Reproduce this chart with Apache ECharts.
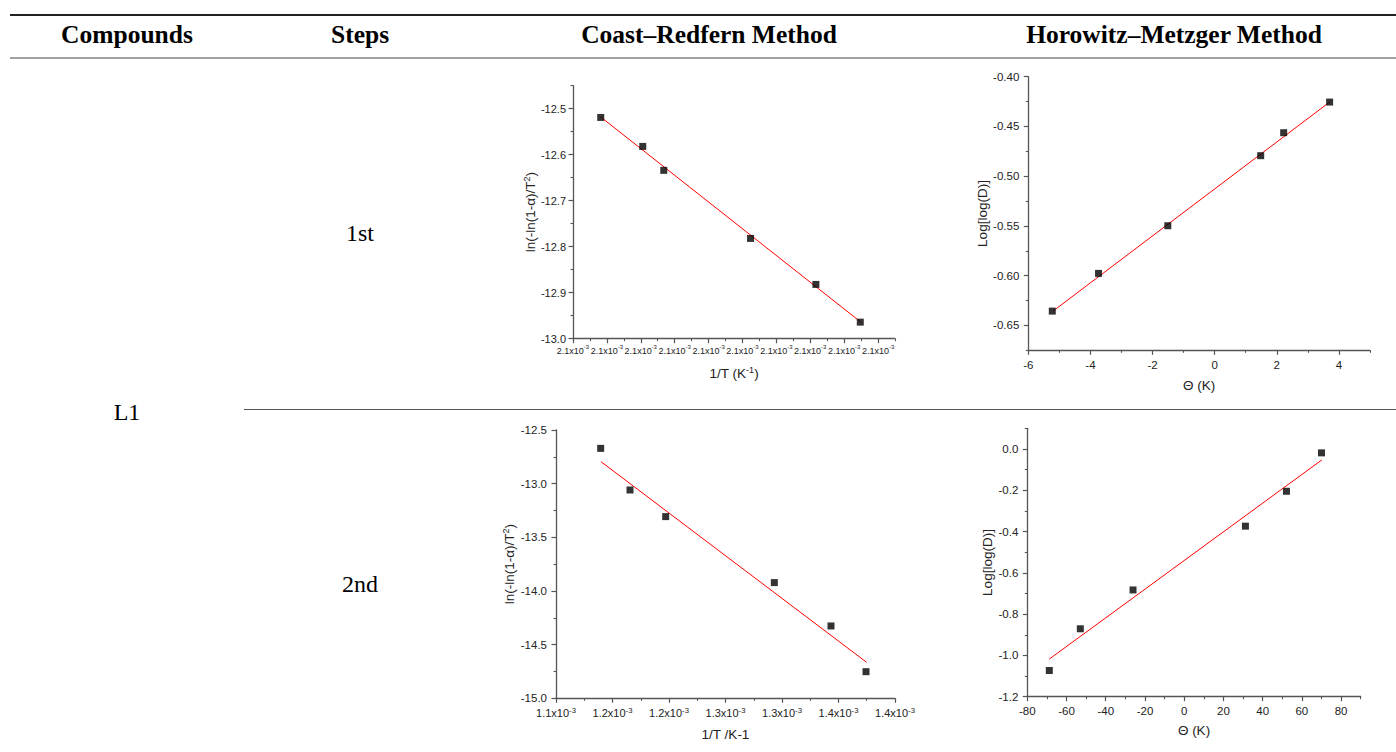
<!DOCTYPE html>
<html><head><meta charset="utf-8">
<script src="https://cdn.jsdelivr.net/npm/echarts@6/dist/echarts.min.js"></script>
<style>html,body{margin:0;padding:0;background:#fff;}#c{width:1396px;height:752px;}</style>
</head><body><div id="c"></div>
<script>
// ---------- table text ----------
const headers = ['Compounds', 'Steps', 'Coast\u2013Redfern Method', 'Horowitz\u2013Metzger Method'];
const compoundLabel = 'L1';
const stepLabels = ['1st', '2nd'];

// ---------- Chart 1: Coats–Redfern, 1st step ----------
const cr1X = [0.00210409, 0.00211029, 0.00211339, 0.00212619, 0.00213583, 0.00214238];
const cr1Y = [-12.519, -12.582, -12.634, -12.782, -12.882, -12.964];
const cr1FitX = [0.00210409, 0.00214238];
const cr1FitY = [-12.518, -12.963];
const cr1XMajor = [0.002100, 0.002105, 0.002110, 0.002115, 0.002120, 0.002125, 0.002130, 0.002135, 0.002140, 0.002145];
const cr1XLabels = ['2.1', '2.1', '2.1', '2.1', '2.1', '2.1', '2.1', '2.1', '2.1', '2.1'];
const cr1XMinor = [0.0021025, 0.0021075, 0.0021125, 0.0021175, 0.0021225, 0.0021275, 0.0021325, 0.0021375, 0.0021425, 0.0021475];
const cr1YMajor = [-13.0, -12.9, -12.8, -12.7, -12.6, -12.5];
const cr1YLabels = ['-13.0', '-12.9', '-12.8', '-12.7', '-12.6', '-12.5'];
const cr1YMinor = [-12.95, -12.85, -12.75, -12.65, -12.55, -12.45];

// ---------- Chart 2: Horowitz–Metzger, 1st step ----------
const hm1X = [-5.228, -3.739, -1.509, 1.481, 2.221, 3.700];
const hm1Y = [-0.6356, -0.5977, -0.5498, -0.4794, -0.4563, -0.4255];
const hm1FitX = [-5.20, 3.70];
const hm1FitY = [-0.6355, -0.4255];
const hm1XMajor = [-6, -4, -2, 0, 2, 4];
const hm1XLabels = ['-6', '-4', '-2', '0', '2', '4'];
const hm1XMinor = [-5, -3, -1, 1, 3, 5];
const hm1YMajor = [-0.65, -0.60, -0.55, -0.50, -0.45, -0.40];
const hm1YLabels = ['-0.65', '-0.60', '-0.55', '-0.50', '-0.45', '-0.40'];
const hm1YMinor = [-0.675, -0.625, -0.575, -0.525, -0.475, -0.425];

// ---------- Chart 3: Coats–Redfern, 2nd step ----------
const cr2X = [0.00113953, 0.00116549, 0.00119706, 0.00129322, 0.00134336, 0.00137434];
const cr2Y = [-12.671, -13.059, -13.307, -13.922, -14.326, -14.752];
const cr2FitX = [0.00113982, 0.00137493];
const cr2FitY = [-12.795, -14.665];
const cr2XMajor = [0.00110, 0.00115, 0.00120, 0.00125, 0.00130, 0.00135, 0.00140];
const cr2XLabels = ['1.1', '1.2', '1.2', '1.3', '1.3', '1.4', '1.4'];
const cr2XMinor = [0.001125, 0.001175, 0.001225, 0.001275, 0.001325, 0.001375];
const cr2YMajor = [-15.0, -14.5, -14.0, -13.5, -13.0, -12.5];
const cr2YLabels = ['-15.0', '-14.5', '-14.0', '-13.5', '-13.0', '-12.5'];
const cr2YMinor = [-14.75, -14.25, -13.75, -13.25, -12.75];

// ---------- Chart 4: Horowitz–Metzger, 2nd step ----------
const hm2X = [-68.78, -52.96, -26.09, 31.22, 52.14, 70.00];
const hm2Y = [-1.073, -0.871, -0.683, -0.374, -0.205, -0.019];
const hm2FitX = [-68.8, 70.2];
const hm2FitY = [-1.018, -0.053];
const hm2XMajor = [-80, -60, -40, -20, 0, 20, 40, 60, 80];
const hm2XLabels = ['-80', '-60', '-40', '-20', '0', '20', '40', '60', '80'];
const hm2XMinor = [-70, -50, -30, -10, 10, 30, 50, 70, 90];
const hm2YMajor = [-1.2, -1.0, -0.8, -0.6, -0.4, -0.2, 0.0];
const hm2YLabels = ['-1.2', '-1.0', '-0.8', '-0.6', '-0.4', '-0.2', '0.0'];
const hm2YMinor = [-1.1, -0.9, -0.7, -0.5, -0.3, -0.1, 0.1];

// ---------- build ----------
const AXIS_COLOR = '#555';
const LABEL_COLOR = '#222';
const SANS = 'Arial, "Liberation Sans", sans-serif';
const SERIF = '"Liberation Serif", "Times New Roman", serif';

function lookup(majors, labels) {
  return function (v) {
    for (let i = 0; i < majors.length; i++) {
      if (Math.abs(majors[i] - v) < Math.abs(majors[1] - majors[0]) * 1e-3) return labels[i];
    }
    return '';
  };
}

const richName = {
  a: { fontSize: 13.5, lineHeight: 16, fontFamily: SANS, color: LABEL_COLOR },
  s: { fontSize: 9, lineHeight: 9, fontFamily: SANS, color: LABEL_COLOR, verticalAlign: 'top' }
};

function mainAxis(dim, gridIndex, min, max, majors, labels, o) {
  const f = lookup(majors, labels);
  return {
    type: 'value', gridIndex: gridIndex, min: min, max: max,
    position: dim === 'x' ? 'bottom' : 'left',
    splitLine: { show: false },
    axisLine: { show: true, onZero: false, lineStyle: { color: AXIS_COLOR, width: 1.3 } },
    axisTick: { show: true, inside: false, length: 4.5, customValues: majors, lineStyle: { color: AXIS_COLOR, width: 1.2 } },
    axisLabel: {
      show: true, customValues: majors, margin: o.margin, color: LABEL_COLOR,
      showMinLabel: true, showMaxLabel: true, hideOverlap: false,
      fontFamily: SANS, fontSize: o.fontSize,
      formatter: o.sup ? function (v) { return '{a|' + f(v) + 'x10}{s|' + o.sup + '}'; } : f,
      rich: o.sup ? {
        a: { fontSize: o.fontSize, lineHeight: 14, fontFamily: SANS, color: LABEL_COLOR },
        s: { fontSize: o.supSize || o.fontSize * 0.7, lineHeight: 8, fontFamily: SANS, color: LABEL_COLOR, verticalAlign: 'top' }
      } : undefined
    },
    name: o.name, nameLocation: 'middle', nameGap: o.nameGap,
    nameTextStyle: { fontFamily: SANS, fontSize: 13.5, color: LABEL_COLOR, rich: richName }
  };
}
function minorAxis(dim, gridIndex, min, max, minors) {
  return {
    type: 'value', gridIndex: gridIndex, min: min, max: max,
    position: dim === 'x' ? 'bottom' : 'left',
    splitLine: { show: false },
    axisLine: { show: false, onZero: false },
    axisTick: { show: true, inside: false, length: 2.5, customValues: minors, lineStyle: { color: AXIS_COLOR, width: 1.1 } },
    axisLabel: { show: false }
  };
}
function pairs(xs, ys) { return xs.map(function (x, i) { return [x, ys[i]]; }); }

const grids = [
  { left: 573, top: 85.7, width: 322, height: 253 },
  { left: 1028.3, top: 76.7, width: 341.7, height: 273.6 },
  { left: 556, top: 430, width: 339, height: 268.3 },
  { left: 1027.3, top: 428.3, width: 333.4, height: 268.4 }
];

const xAxes = [
  mainAxis('x', 0, 0.0021, 0.0021475, cr1XMajor, cr1XLabels, { fontSize: 9, supSize: 6, margin: 5, sup: '-3', name: '{a|1/T (K}{s|-1}{a|)}', nameGap: 27 }),
  mainAxis('x', 1, -6, 5, hm1XMajor, hm1XLabels, { fontSize: 11.5, margin: 9, name: '{a|\u0398 (K)}', nameGap: 27 }),
  mainAxis('x', 2, 0.0011, 0.0014, cr2XMajor, cr2XLabels, { fontSize: 11, margin: 8, sup: '-3', name: '{a|1/T /K-1}', nameGap: 28 }),
  mainAxis('x', 3, -80, 90, hm2XMajor, hm2XLabels, { fontSize: 11.5, margin: 8, name: '{a|\u0398 (K)}', nameGap: 26 }),
  minorAxis('x', 0, 0.0021, 0.0021475, cr1XMinor),
  minorAxis('x', 1, -6, 5, hm1XMinor),
  minorAxis('x', 2, 0.0011, 0.0014, cr2XMinor),
  minorAxis('x', 3, -80, 90, hm2XMinor)
];
const yAxes = [
  mainAxis('y', 0, -13.0, -12.45, cr1YMajor, cr1YLabels, { fontSize: 11, margin: 7, name: '{a|ln(-ln(1-\u03b1)/T}{s|2}{a|)}', nameGap: 33 }),
  mainAxis('y', 1, -0.675, -0.40, hm1YMajor, hm1YLabels, { fontSize: 11.5, margin: 9, name: '{a|Log[log(D)]}', nameGap: 37 }),
  mainAxis('y', 2, -15.0, -12.5, cr2YMajor, cr2YLabels, { fontSize: 11.5, margin: 9, name: '{a|ln(-ln(1-\u03b1)/T}{s|2}{a|)}', nameGap: 35 }),
  mainAxis('y', 3, -1.2, 0.1, hm2YMajor, hm2YLabels, { fontSize: 11.5, margin: 9, name: '{a|Log[log(D)]}', nameGap: 31 }),
  minorAxis('y', 0, -13.0, -12.45, cr1YMinor),
  minorAxis('y', 1, -0.675, -0.40, hm1YMinor),
  minorAxis('y', 2, -15.0, -12.5, cr2YMinor),
  minorAxis('y', 3, -1.2, 0.1, hm2YMinor)
];

const sets = [
  [cr1X, cr1Y, cr1FitX, cr1FitY],
  [hm1X, hm1Y, hm1FitX, hm1FitY],
  [cr2X, cr2Y, cr2FitX, cr2FitY],
  [hm2X, hm2Y, hm2FitX, hm2FitY]
];
const series = [];
sets.forEach(function (s, i) {
  series.push({
    type: 'line', xAxisIndex: i, yAxisIndex: i, data: pairs(s[2], s[3]),
    symbol: 'none', lineStyle: { color: '#ff0000', width: 1 }, z: 2, silent: true
  });
  series.push({
    type: 'scatter', xAxisIndex: i, yAxisIndex: i, data: pairs(s[0], s[1]),
    symbol: 'rect', symbolSize: 7, itemStyle: { color: '#000' }, z: 3, silent: true
  });
});

function txt(t, x, y, bold) {
  return {
    type: 'text', x: x, y: y, silent: true,
    style: { text: t, font: (bold ? 'bold 25.5px ' : '24px ') + SERIF, fill: '#000', align: 'center', verticalAlign: 'middle' }
  };
}
const headerX = [127, 360, 709, 1174];
const graphic = [
  { type: 'line', silent: true, shape: { x1: 10, y1: 15, x2: 1396, y2: 15 }, style: { stroke: '#222', lineWidth: 2 } },
  { type: 'line', silent: true, shape: { x1: 10, y1: 58, x2: 1396, y2: 58 }, style: { stroke: '#444', lineWidth: 1 } },
  { type: 'line', silent: true, shape: { x1: 244, y1: 409.5, x2: 1396, y2: 409.5 }, style: { stroke: '#555', lineWidth: 1 } }
];
headers.forEach(function (h, i) { graphic.push(txt(h, headerX[i], 34.5, true)); });
graphic.push(txt(compoundLabel, 127, 412, false));
graphic.push(txt(stepLabels[0], 360, 232.5, false));
graphic.push(txt(stepLabels[1], 360, 583.5, false));

const chart = echarts.init(document.getElementById('c'), null, { renderer: 'svg' });
chart.setOption({
  animation: false,
  backgroundColor: '#fff',
  grid: grids,
  xAxis: xAxes,
  yAxis: yAxes,
  series: series,
  graphic: graphic
});
</script>
</body></html>
